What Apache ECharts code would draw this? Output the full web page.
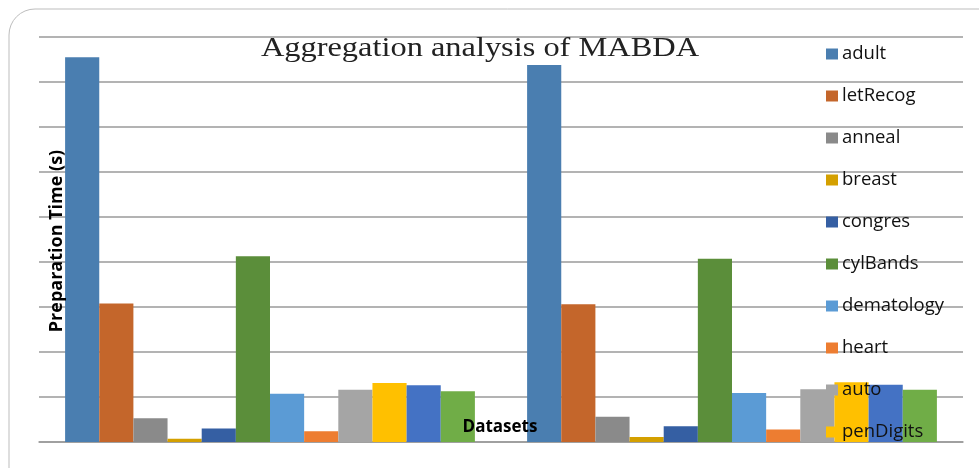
<!DOCTYPE html>
<html>
<head>
<meta charset="utf-8">
<script src="https://cdn.jsdelivr.net/npm/echarts@6/dist/echarts.min.js"></script>
<style>
html,body{margin:0;padding:0;background:#fff;}
#chart{width:979px;height:468px;}
</style>
</head>
<body>
<div id="chart"></div>
<script>
const categories = ['Group 1', 'Group 2'];
const seriesNames = ['adult','letRecog','anneal','breast','congres','cylBands','dematology','heart','auto','penDigits','series11','series12'];
const legendNames = ['adult','letRecog','anneal','breast','congres','cylBands','dematology','heart','auto','penDigits'];
const adult      = [8.55, 8.38];
const letRecog   = [3.08, 3.06];
const anneal     = [0.53, 0.56];
const breast     = [0.07, 0.11];
const congres    = [0.30, 0.35];
const cylBands   = [4.13, 4.07];
const dematology = [1.07, 1.09];
const heart      = [0.24, 0.28];
const auto       = [1.16, 1.17];
const penDigits  = [1.31, 1.33];
const series11   = [1.26, 1.27];
const series12   = [1.13, 1.16];
const yTicks = [0,1,2,3,4,5,6,7,8,9];

const values = [adult, letRecog, anneal, breast, congres, cylBands, dematology, heart, auto, penDigits, series11, series12];
const colors = ['#4A7EB0','#C4662B','#8A8A8A','#D4A000','#355FA3','#5B8E3A','#5B9BD5','#ED7D31','#A5A5A5','#FFC000','#4472C4','#70AD47'];

const chart = echarts.init(document.getElementById('chart'));
chart.setOption({
  animation: false,
  backgroundColor: '#fff',
  color: colors,
  legend: {
    data: legendNames,
    orient: 'vertical',
    left: 821, top: 39,
    itemWidth: 12, itemHeight: 11,
    itemGap: 22,
    icon: 'rect',
    textStyle: {fontFamily: 'Open Sans', fontSize: 18.5, color: '#111', lineHeight: 20, padding: [0,0,0,-1]}
  },
  grid: {left: 39, right: 16, top: 37, bottom: 26, containLabel: false},
  xAxis: {
    type: 'category', data: categories,
    axisLine: {show: true, lineStyle: {color: '#9a9a9a', width: 1.5}},
    axisTick: {show: false}, axisLabel: {show: false}
  },
  yAxis: {
    type: 'value', min: yTicks[0], max: yTicks[yTicks.length-1], interval: 1,
    axisLine: {show: false}, axisTick: {show: false}, axisLabel: {show: false},
    splitLine: {show: true, lineStyle: {color: '#9a9a9a', width: 1.5}}
  },
  graphic: [
    {type: 'rect', shape: {x: 9, y: 9, width: 1000, height: 500, r: 26}, style: {fill: 'none', stroke: '#bdbdbd', lineWidth: 1}, z: 0, silent: true},
    {type: 'text', x: 480, y: 49, scaleX: 1.2, z: 100,
     style: {text: 'Aggregation analysis of MABDA', fontFamily: 'Liberation Serif', fontSize: 27, fill: '#222', align: 'center', verticalAlign: 'middle'}},
    {type: 'text', x: 57, y: 241, rotation: Math.PI/2, z: 100,
     style: {text: 'Preparation Time (s)', fontFamily: 'Open Sans', fontWeight: 'bold', fontSize: 18, fill: '#000', align: 'center', verticalAlign: 'middle'}},
    {type: 'text', x: 500, y: 427, z: 100,
     style: {text: 'Datasets', fontFamily: 'Open Sans', fontWeight: 'bold', fontSize: 17, fill: '#000', align: 'center', verticalAlign: 'middle'}}
  ],
  series: seriesNames.map((n, i) => ({
    name: n, type: 'bar', data: values[i],
    barGap: '0%', barCategoryGap: '11.3%',
    itemStyle: {color: colors[i]}
  }))
});
</script>
</body>
</html>
